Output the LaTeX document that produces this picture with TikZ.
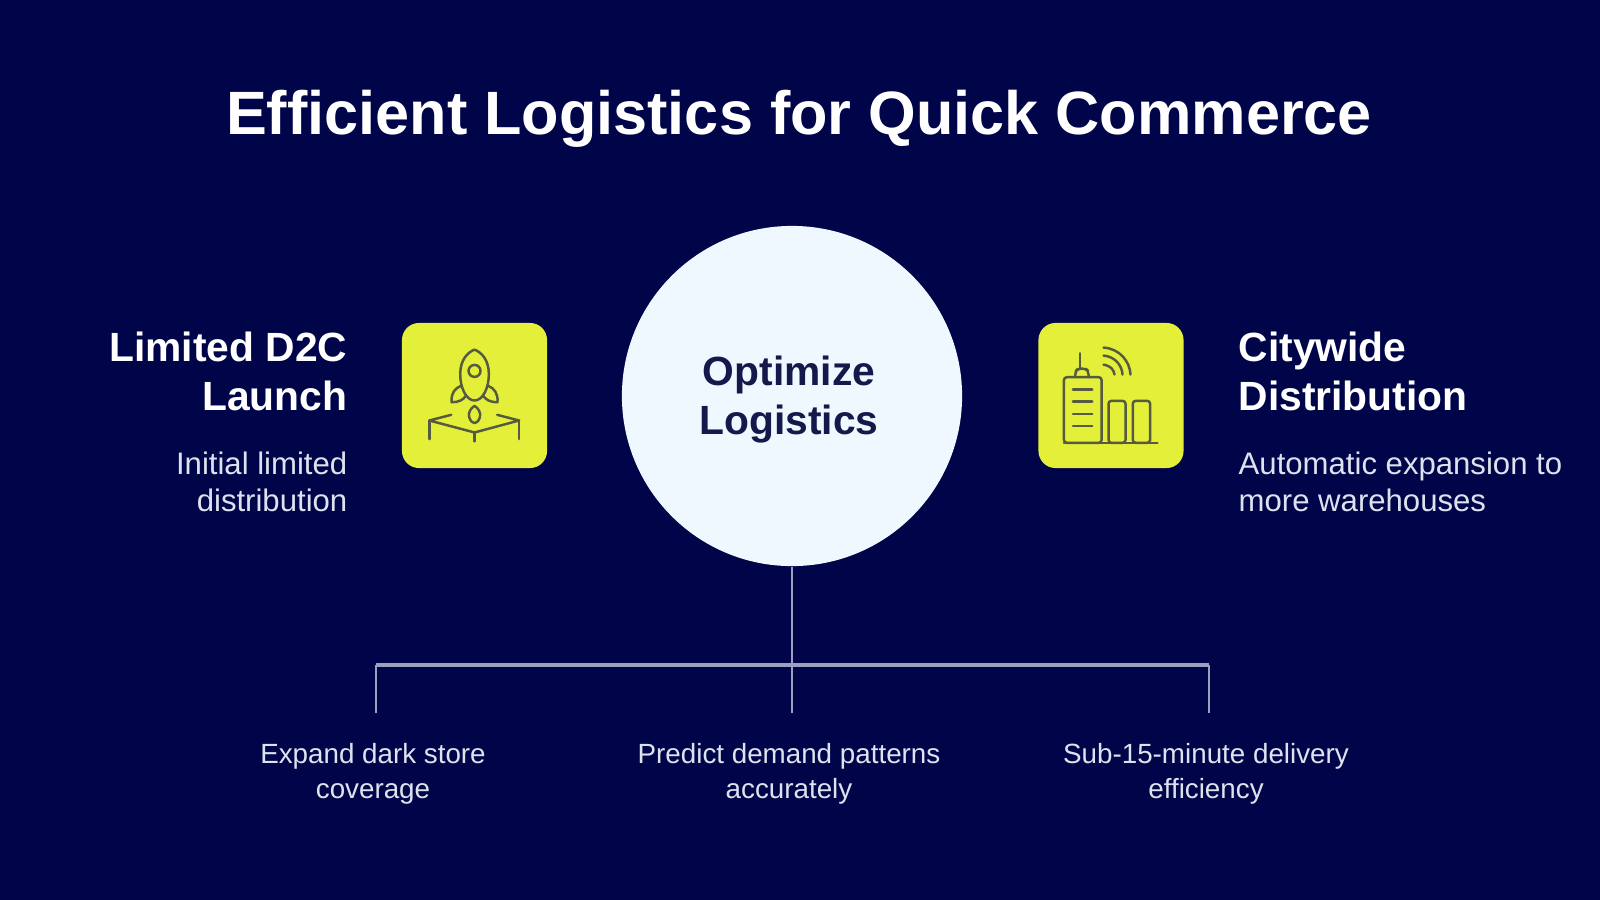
\documentclass[tikz,border=0pt]{standalone}
\usepackage{fontspec}
\setmainfont{Liberation Sans}
\definecolor{bgc}{HTML}{00054A}
\definecolor{circ}{HTML}{F0F8FF}
\definecolor{yel}{HTML}{E3EF38}
\definecolor{ink}{HTML}{13194A}
\definecolor{subt}{HTML}{DDE2EE}
\definecolor{conn}{HTML}{9C9FBE}
\definecolor{icon}{HTML}{555A40}
\tikzset{
  title/.style={text=white,font=\fontsize{17.4}{20}\selectfont\bfseries,inner sep=0pt},
  heading/.style={text=white,font=\fontsize{11.6}{13.94}\selectfont\bfseries,inner sep=0pt},
  subtext/.style={text=subt,font=\fontsize{8.85}{10.5}\selectfont,inner sep=0pt},
  bottomtext/.style={text=subt,font=\fontsize{7.9}{9.96}\selectfont,inner sep=0pt,align=center},
  iconbox/.style={fill=yel,rounded corners=0.17cm,minimum width=1.45cm,minimum height=1.45cm,inner sep=0pt},
  hub/.style={circle,fill=circ,minimum size=3.4cm,inner sep=0pt},
  link/.style={draw=conn,line width=0.75pt},
  bar/.style={draw=conn,line width=1pt},
  glyph/.style={draw=icon,line width=0.7pt,line cap=round,line join=round}
}
\begin{document}
\begin{tikzpicture}[x=0.01cm,y=-0.01cm]
\useasboundingbox (0,0) rectangle (1600,900);
\fill[bgc] (0,0) rectangle (1600,900);
\node[title] (ttl) at (799,119) {Efficient Logistics for Quick Commerce};

\node[hub] (hubc) at (792,396) {};
\node[text=ink,font=\fontsize{11.6}{13.94}\selectfont\bfseries,align=center,inner sep=0pt] (hubt) at (789,400) {Optimize\\Logistics};

\node[iconbox] (rbox) at (474.5,395.5) {};
\node[iconbox] (cbox) at (1111,395.5) {};

% left text
\node[heading,align=right,anchor=east] (lh) at (348,371) {Limited D2C\\Launch};
\node[subtext,align=right,anchor=east] (ls) at (348,481.5) {Initial limited\\distribution};
% right text
\node[heading,align=left,anchor=west] (rh) at (1238,371) {Citywide\\Distribution};
\node[subtext,align=left,anchor=west] (rs) at (1238,481.5) {Automatic expansion to\\more warehouses};

% bottom labels
\node[bottomtext] (b1) at (373,773.5) {Expand dark store\\coverage};
\node[bottomtext] (b2) at (789,773.5) {Predict demand patterns\\accurately};
\node[bottomtext] (b3) at (1206,773.5) {Sub-15-minute delivery\\efficiency};

% connectors
\coordinate (j0) at (hubc.south |- 0,665);
\coordinate (j1) at (376,665);
\coordinate (j3) at (1209,665);
\coordinate (e1) at (376,713);
\coordinate (e2) at (hubc.south |- 0,713);
\coordinate (e3) at (1209,713);
\draw[link] (hubc.south) -- (e2);
\draw[bar] (j1) -- (j3);
\draw[link] (j1) -- (e1);
\draw[link] (j3) -- (e3);

% rocket icon
\begin{scope}[shift={(390,310)},x=0.003333cm,y=-0.003333cm]
\draw[glyph] (254,119) .. controls (232,128) and (212,150) .. (211,190) .. controls (210,235) and (230,272) .. (254,272) .. controls (278,272) and (298,235) .. (297,190) .. controls (296,150) and (276,128) .. (254,119) -- cycle;
\draw[glyph] (254,183) circle (18);
\draw[glyph] (213,228) .. controls (195,235) and (183,250) .. (185,277) .. controls (205,278) and (220,270) .. (228,258);
\draw[glyph] (295,228) .. controls (313,235) and (325,250) .. (323,277) .. controls (303,278) and (288,270) .. (280,258);
\draw[glyph] (254,288) .. controls (242,295) and (234,310) .. (238,322) .. controls (241,333) and (248,340) .. (254,340) .. controls (260,340) and (267,333) .. (270,322) .. controls (274,310) and (266,295) .. (254,288) -- cycle;
\draw[glyph] (184,315) -- (118,332) -- (254,368) -- (388,332) -- (322,315);
\draw[glyph] (118,332) -- (118,388);
\draw[glyph] (388,332) -- (388,388);
\draw[glyph] (254,368) -- (254,395);
\end{scope}

% city icon
\begin{scope}[shift={(1025,310)},x=0.003333cm,y=-0.003333cm]
\draw[glyph,rounded corners=0.8pt] (117,202) rectangle (230,399);
\draw[glyph,rounded corners=0.8pt] (251,273) rectangle (302,399);
\draw[glyph,rounded corners=0.8pt] (324,273) rectangle (376,399);
\draw[glyph] (117,399) -- (398,399);
\draw[glyph] (144,239) -- (202,239);
\draw[glyph] (144,275) -- (202,275);
\draw[glyph] (144,312) -- (202,312);
\draw[glyph] (144,349) -- (202,349);
\draw[glyph] (166,130) -- (166,176);
\draw[glyph,rounded corners=1pt] (151,202) -- (151,184) -- (160,176) -- (182,176) -- (191,184) -- (191,202);
\draw[glyph] (236,113) .. controls (285,116) and (315,155) .. (317,194);
\draw[glyph] (236,137) .. controls (270,140) and (291,165) .. (293,194);
\draw[glyph] (236,164) .. controls (255,167) and (267,178) .. (269,194);
\end{scope}
\end{tikzpicture}
\end{document}
